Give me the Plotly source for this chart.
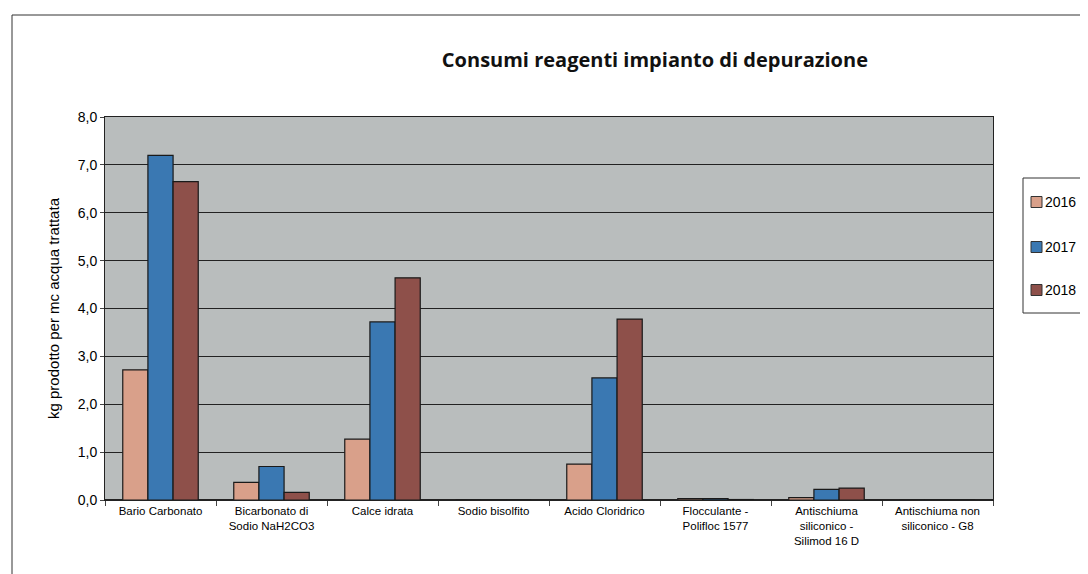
import plotly.graph_objects as go

categories = ["Bario Carbonato", "Bicarbonato di<br>Sodio NaH2CO3", "Calce idrata", "Sodio bisolfito",
              "Acido Cloridrico", "Flocculante -<br>Polifloc 1577", "Antischiuma<br>siliconico -<br>Silimod 16 D",
              "Antischiuma non<br>siliconico - G8"]
v2016 = [2.72, 0.37, 1.27, 0.0, 0.75, 0.03, 0.05, 0.0]
v2017 = [7.20, 0.70, 3.72, 0.0, 2.55, 0.03, 0.22, 0.0]
v2018 = [6.65, 0.16, 4.64, 0.0, 3.78, 0.01, 0.25, 0.0]
years = ["2016", "2017", "2018"]
colors = ["#D9A08A", "#3A78B2", "#8E504A"]

# page offset of 8px (body margin); plot area in page px: x 105..993, y 117..500
PX0, PW, PY0, PH = 105, 888, 500, 383
def px(x): return (x - PX0) / PW
def py(y): return (PY0 - y) / PH

fig = go.Figure()
for name, vals, col in zip(years, [v2016, v2017, v2018], colors):
    fig.add_trace(go.Bar(x=categories, y=vals, name=name, marker_color=col,
                         marker_line_color="#1a1a1a", marker_line_width=1.2, showlegend=False))

fig.update_layout(
    width=1080, height=566,
    paper_bgcolor="white", plot_bgcolor="#B9BDBD",
    margin=dict(l=97, r=95, t=109, b=74, autoexpand=False),
    separators=",.",
    barmode="group", bargap=0.32, bargroupgap=0,
    font=dict(family="Liberation Sans Narrow, Liberation Sans, Arial", color="black", size=11.5),
    title=dict(text="<b>Consumi reagenti impianto di depurazione</b>", x=0.599, xanchor="center",
               y=0.908, yanchor="middle", font=dict(size=20, family="Open Sans, Liberation Sans", color="#111")),
)
fig.update_yaxes(range=[0, 8], dtick=1, tickformat=".1f", showgrid=True, gridcolor="#222", gridwidth=1.2,
                 showline=True, linecolor="#222", linewidth=1, ticks="outside", ticklen=4,
                 tickfont=dict(size=14, family="Liberation Sans"),
                 title=dict(text="kg prodotto per mc acqua trattata", font=dict(size=15, family="Liberation Sans"),
                            standoff=14), zeroline=True, zerolinecolor="#222", mirror=True)
fig.update_xaxes(showline=True, linecolor="#222", linewidth=1, ticks="outside", ticklen=5, tickson="boundaries",
                 tickangle=0, mirror=True)

# outer chart frame
fig.add_shape(type="rect", xref="paper", yref="paper", x0=px(12), x1=px(1200), y0=py(700), y1=py(15),
              line=dict(color="#333", width=1), fillcolor="rgba(0,0,0,0)", layer="below")

# legend (manual, to match the compact layout)
fig.add_shape(type="rect", xref="paper", yref="paper", x0=px(1023), x1=px(1200), y0=py(313), y1=py(178),
              line=dict(color="#333", width=1), fillcolor="white")
for i, (name, col) in enumerate(zip(years, colors)):
    yc = [202, 247, 290][i]
    fig.add_shape(type="rect", xref="paper", yref="paper", x0=px(1031), x1=px(1042), y0=py(yc + 5.5),
                  y1=py(yc - 5.5), line=dict(color="#333", width=1), fillcolor=col)
    fig.add_annotation(x=px(1043), y=py(yc), xref="paper", yref="paper", text=name, showarrow=False,
                       xanchor="left", yanchor="middle", font=dict(size=14, family="Liberation Sans"))

fig.write_html("out.html")
